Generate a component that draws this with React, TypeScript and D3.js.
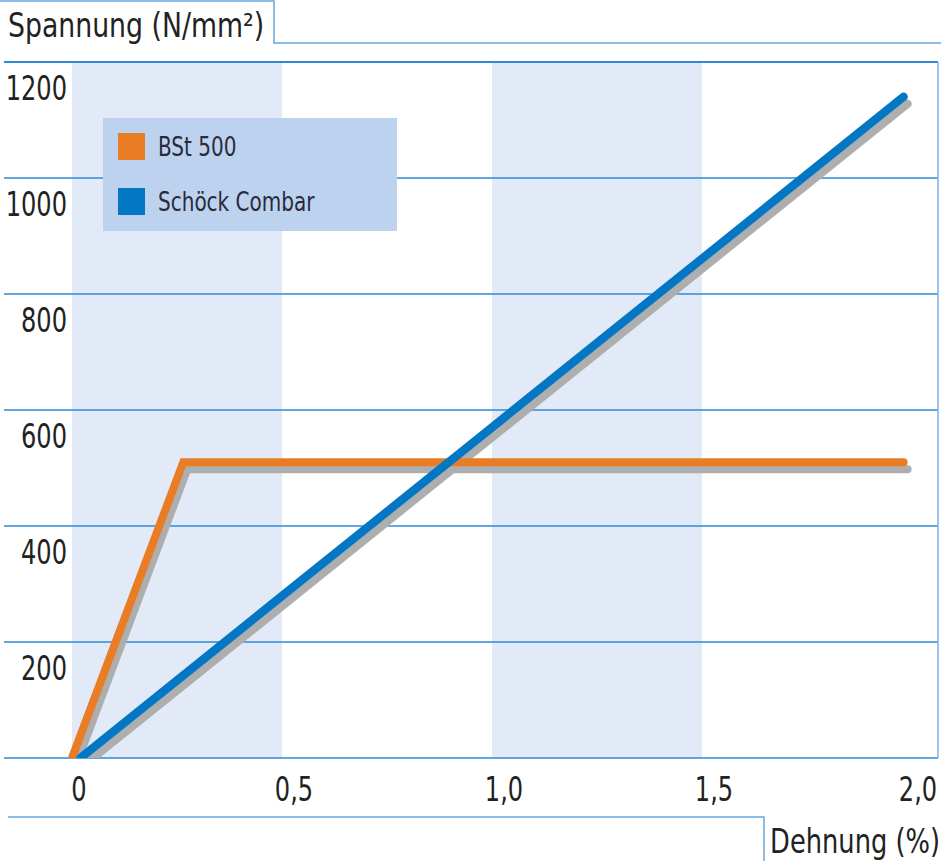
import { useEffect, useRef } from 'react';
import * as d3 from 'd3';

// Werte (Dehnung in %, Spannung in N/mm²)
const bstStrain = [0, 0.265, 1.98];
const bstStress = [0, 510, 510];
const combarStrain = [0.02, 1.98];
const combarStress = [0, 1140];

const yTicks = [0, 200, 400, 600, 800, 1000, 1200];
const xTicks = [0, 0.5, 1.0, 1.5, 2.0];
const xTickLabels = ['0', '0,5', '1,0', '1,5', '2,0'];
const bands = [[0, 0.5], [1.0, 1.5]];
const legendItems = ['BSt 500', 'Schöck Combar'];

const FONT = '"DejaVu Sans", sans-serif';

type Sel = d3.Selection<any, unknown, null, undefined>;

// condensed text: the original uses a narrow face, so squeeze horizontally
function addText(g: Sel, x: number, y: number, txt: string, size: number, anchor: string, sx: number, fill = '#222') {
  g.append('text')
    .attr('transform', `translate(${x},${y}) scale(${sx},1)`)
    .attr('text-anchor', anchor)
    .style('font-family', FONT)
    .style('font-size', `${size}px`)
    .attr('fill', fill)
    .text(txt);
}

export default function App() {
  const svgRef = useRef<SVGSVGElement>(null);

  useEffect(() => {
    if (!svgRef.current) return;
    const svg = d3.select(svgRef.current);
    svg.selectAll('*').remove();

    const width = 941;
    const height = 861;
    const right = 938;

    const x = d3.scaleLinear().domain([0, 2]).range([72, 912]);
    const y = d3.scaleLinear().domain([0, 1200]).range([758, 62]);

    const colors = { bst: '#e87d25', combar: '#0477c4', shadow: '#aeaeae' };

    svg.attr('viewBox', `0 0 ${width} ${height}`);

    svg.append('rect').attr('width', width).attr('height', height).attr('fill', '#fff');

    // shaded bands
    svg.selectAll('.band')
      .data(bands)
      .enter()
      .append('rect')
      .attr('x', d => x(d[0]))
      .attr('width', d => x(d[1]) - x(d[0]))
      .attr('y', y(1200))
      .attr('height', y(0) - y(1200))
      .attr('fill', '#e1eaf6');

    // horizontal grid
    svg.selectAll('.grid')
      .data(yTicks)
      .enter()
      .append('line')
      .attr('x1', 4)
      .attr('x2', right)
      .attr('y1', d => y(d))
      .attr('y2', d => y(d))
      .attr('stroke', '#2f8ad6')
      .attr('stroke-width', d => (d === 1200 ? 2.2 : 1.6));

    // right border
    svg.append('line')
      .attr('x1', right).attr('x2', right)
      .attr('y1', y(1200)).attr('y2', y(0))
      .attr('stroke', '#7fb2e5').attr('stroke-width', 1.5);

    // y labels
    yTicks.filter(d => d > 0).forEach(d => {
      addText(svg, 67, y(d) + 38, String(d), 33, 'end', 0.73);
    });

    // x labels
    xTicks.forEach((d, i) => {
      addText(svg, x(d) + (d === 0 ? 7 : d === 2 ? 6 : 12), 801, xTickLabels[i], 33, 'middle', 0.73);
    });

    // clip so lines start flat on the baseline
    svg.append('clipPath').attr('id', 'plotclip')
      .append('rect')
      .attr('x', 0).attr('y', 0)
      .attr('width', width).attr('height', y(0));

    const line = d3.line<[number, number]>()
      .x(d => x(d[0]))
      .y(d => y(d[1]));

    const bstData = bstStrain.map((v, i) => [v, bstStress[i]] as [number, number]);
    const combarData = combarStrain.map((v, i) => [v, combarStress[i]] as [number, number]);

    const plot = svg.append('g').attr('clip-path', 'url(#plotclip)');

    [bstData, combarData].forEach(data => {
      plot.append('path')
        .attr('d', line(data))
        .attr('transform', 'translate(4,7)')
        .attr('fill', 'none')
        .attr('stroke', colors.shadow)
        .attr('stroke-width', 8)
        .attr('stroke-linecap', 'round')
        .attr('stroke-linejoin', 'miter');
    });

    plot.append('path')
      .attr('d', line(bstData))
      .attr('fill', 'none')
      .attr('stroke', colors.bst)
      .attr('stroke-width', 8)
      .attr('stroke-linecap', 'round')
      .attr('stroke-linejoin', 'miter');

    plot.append('path')
      .attr('d', line(combarData))
      .attr('fill', 'none')
      .attr('stroke', colors.combar)
      .attr('stroke-width', 8.5)
      .attr('stroke-linecap', 'round');

    // legend
    const legend = svg.append('g');
    legend.append('rect')
      .attr('x', 103).attr('y', 118)
      .attr('width', 294).attr('height', 113)
      .attr('fill', '#bcd2ee');
    legendItems.forEach((label, i) => {
      legend.append('rect')
        .attr('x', 118).attr('y', 133 + i * 55)
        .attr('width', 27).attr('height', 27)
        .attr('fill', i === 0 ? colors.bst : colors.combar);
      addText(legend, 158, 156 + i * 55, label, 26, 'start', 0.77, '#2a2a3a');
    });

    // top title box
    svg.append('path')
      .attr('d', 'M0,1 H274 V43 H941')
      .attr('fill', 'none')
      .attr('stroke', '#6aa7e0')
      .attr('stroke-width', 1.5);
    addText(svg, 8, 37, 'Spannung (N/mm²)', 33, 'start', 0.81);

    // bottom title box
    svg.append('path')
      .attr('d', 'M8,817 H764 V861')
      .attr('fill', 'none')
      .attr('stroke', '#6aa7e0')
      .attr('stroke-width', 1.5);
    addText(svg, 940, 853, 'Dehnung (%)', 33, 'end', 0.78);
  }, []);

  return (
    <svg
      ref={svgRef}
      width={941}
      height={861}
      style={{ position: 'absolute', left: 0, top: 0, display: 'block' }}
    />
  );
}
